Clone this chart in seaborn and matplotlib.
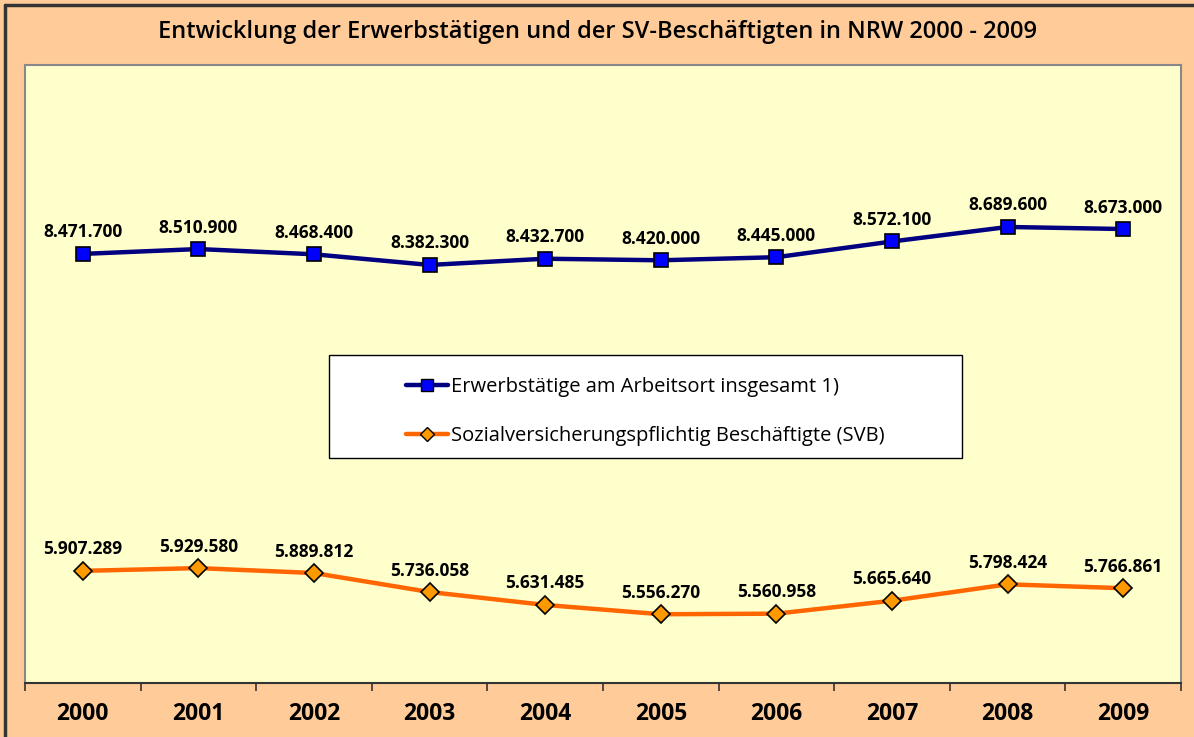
import seaborn as sns
from matplotlib import pyplot as plt
from matplotlib.lines import Line2D
from matplotlib.patches import Rectangle
import pandas as pd

years = ["2000", "2001", "2002", "2003", "2004", "2005", "2006", "2007", "2008", "2009"]
erwerbstaetige = [8471700, 8510900, 8468400, 8382300, 8432700, 8420000, 8445000, 8572100, 8689600, 8673000]
svb = [5907289, 5929580, 5889812, 5736058, 5631485, 5556270, 5560958, 5665640, 5798424, 5766861]
name_erw = "Erwerbstätige am Arbeitsort insgesamt 1)"
name_svb = "Sozialversicherungspflichtig Beschäftigte (SVB)"

df = pd.DataFrame({"Jahr": years, "erw": erwerbstaetige, "svb": svb})

sns.set_style("white")
plt.rcParams["font.family"] = ["Open Sans", "DejaVu Sans"]
plt.rcParams["text.color"] = "black"
plt.rcParams["xtick.labelcolor"] = "black"

W, H = 1194, 737
fig = plt.figure(figsize=(11.94, 7.37), dpi=100, facecolor="#FFCC99")
ax = fig.add_axes([25 / W, 1 - 683 / H, 1156 / W, 618 / H])
ax.set_facecolor("#FFFFCC")

sns.lineplot(data=df, x="Jahr", y="erw", ax=ax, color="#000080", lw=3.2,
             marker="s", markersize=10, markerfacecolor="#0000FF",
             markeredgecolor="black", markeredgewidth=1.2, sort=False)
sns.lineplot(data=df, x="Jahr", y="svb", ax=ax, color="#FF6600", lw=3.2,
             marker="D", markersize=9, markerfacecolor="#FF9900",
             markeredgecolor="black", markeredgewidth=1.2, sort=False)

def fmt(v):
    return f"{v:,}".replace(",", ".")

for i, (a, b) in enumerate(zip(erwerbstaetige, svb)):
    ax.annotate(fmt(a), (i, a), xytext=(0, 9), textcoords="offset points",
                ha="center", va="bottom", fontsize=12.5, fontweight="bold")
    ax.annotate(fmt(b), (i, b), xytext=(0, 9), textcoords="offset points",
                ha="center", va="bottom", fontsize=12.5, fontweight="bold")

ax.set_ylim(5000000, 10000000)
ax.set_xlim(-0.5, 9.5)
ax.set_yticks([])
ax.set_xlabel("")
ax.set_ylabel("")
ax.set_xticks(range(len(years)))
ax.set_xticklabels(years, fontsize=16.5, fontweight="bold")
ax.tick_params(axis="x", which="major", length=0, pad=14)
ax.set_xticks([i - 0.5 for i in range(len(years) + 1)], minor=True)
ax.tick_params(axis="x", which="minor", length=6, width=1.2, direction="out",
               color="#333333", bottom=True)
for s in ["left", "top", "right"]:
    ax.spines[s].set_color("#888888")
    ax.spines[s].set_linewidth(1.5)
ax.spines["bottom"].set_color("#333333")
ax.spines["bottom"].set_linewidth(1.5)

# legend frame drawn separately so the entries can sit inside with a wide left margin
ax.add_patch(Rectangle((329 / W, 1 - 458 / H), 633 / W, 103 / H, transform=fig.transFigure,
                       facecolor="white", edgecolor="black", lw=1.0, zorder=4, clip_on=False))
handles = [
    Line2D([], [], color="#000080", lw=3.2, marker="s", markersize=8,
           markerfacecolor="#0000FF", markeredgecolor="black"),
    Line2D([], [], color="#FF6600", lw=3.2, marker="D", markersize=7,
           markerfacecolor="#FF9900", markeredgecolor="black"),
]
leg = ax.legend(handles, [name_erw, name_svb], loc="upper left",
                bbox_to_anchor=(396 / W, 1 - 367 / H), bbox_transform=fig.transFigure,
                fontsize=14.5, frameon=False, handlelength=2.1, borderpad=0,
                handletextpad=0.12, labelspacing=1.45)
leg.set_zorder(5)

fig.text(0.5, 1 - 32 / H, "Entwicklung der Erwerbstätigen und der SV-Beschäftigten in NRW 2000 - 2009",
         ha="center", va="center", fontsize=17, fontweight="semibold")

fig.add_artist(Line2D([5 / W, 1], [1 - 5 / H, 1 - 5 / H], color="#333333", lw=2.5,
                      transform=fig.transFigure))
fig.add_artist(Line2D([5 / W, 5 / W], [0, 1 - 5 / H], color="#333333", lw=2.5,
                      transform=fig.transFigure))

fig.savefig("out.png", dpi=100, facecolor=fig.get_facecolor())
